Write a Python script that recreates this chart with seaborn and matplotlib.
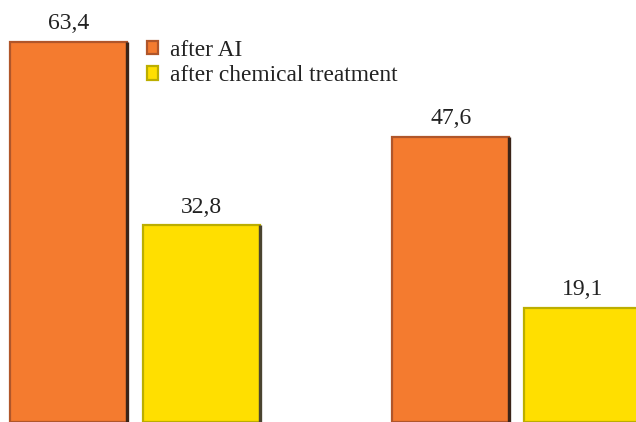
import matplotlib
matplotlib.use("Agg")
import matplotlib.pyplot as plt
from matplotlib.patches import Patch
import seaborn as sns
import pandas as pd

# Values per sample group
groups = ["Sample 1", "Sample 2"]
series = ["after AI", "after chemical treatment"]
after_ai = [63.4, 47.6]
after_chemical = [32.8, 19.1]
value_labels_ai = ["63,4", "47,6"]
value_labels_chem = ["32,8", "19,1"]

colors = {"after AI": "#F47B2F", "after chemical treatment": "#FFDF00"}
edge_colors = {"after AI": "#B0562A", "after chemical treatment": "#BCAE00"}
shadow_colors = {"after AI": "#3A2418", "after chemical treatment": "#4A4430"}

df = pd.DataFrame({
    "group": groups * 2,
    "series": [series[0]] * len(groups) + [series[1]] * len(groups),
    "value": after_ai + after_chemical,
    "label": value_labels_ai + value_labels_chem,
})

sns.set_theme(style="white")
plt.rcParams["font.family"] = ["Liberation Serif", "DejaVu Serif"]

fig = plt.figure(figsize=(6.36, 4.22), dpi=100)
ax = fig.add_axes([0, 0, 1, 1])

sns.barplot(data=df, x="group", y="value", hue="series", hue_order=series,
            palette=colors, width=0.692, gap=0.114, legend=False,
            saturation=1, ax=ax, errorbar=None)

# Bevelled look: darker outline plus a shaded right-hand side
for container, name in zip(ax.containers, series):
    for bar in container:
        bar.set_edgecolor(edge_colors[name])
        bar.set_linewidth(1.6)
        x0 = bar.get_x()
        w = bar.get_width()
        h = bar.get_height()
        ax.plot([x0 + w, x0 + w], [0, h], color=shadow_colors[name],
                lw=2.4, solid_capstyle="butt", zorder=bar.get_zorder() + 0.1)

# Value labels above the bars
for container, name in zip(ax.containers, series):
    labels = df.loc[df["series"] == name, "label"].tolist()
    for bar, text in zip(container, labels):
        ax.annotate(text, (bar.get_x() + bar.get_width() / 2, bar.get_height()),
                    xytext=(0, 9), textcoords="offset points",
                    ha="center", va="baseline", fontsize=17, color="#222222")

ax.set_xlim(-0.3537, 1.3126)
ax.set_ylim(0, 70.4)
ax.set_axis_off()

handles = [Patch(facecolor=colors[s], edgecolor=edge_colors[s], linewidth=1.6)
           for s in series]
fig.legend(handles, series, loc="upper left",
           bbox_to_anchor=(135 / 636, 1 - 28 / 422), frameon=False,
           fontsize=16.8, handlelength=0.5, handleheight=0.5,
           handletextpad=0.5, labelspacing=0.2, borderpad=0,
           labelcolor="#222222")

fig.savefig("out.png", dpi=100)
